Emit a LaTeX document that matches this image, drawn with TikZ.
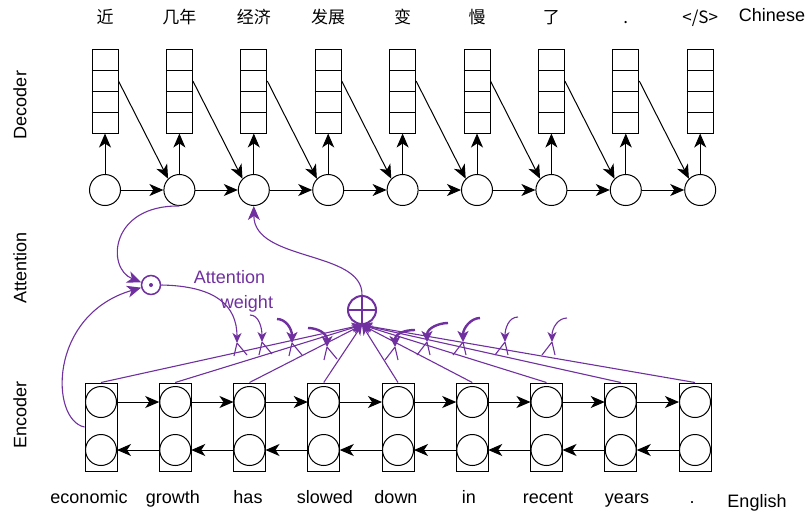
\documentclass[tikz,border=0pt]{standalone}
\usepackage{fontspec}
\setmainfont{Liberation Sans}
\newfontfamily\cjk{Noto Sans CJK SC}
\usetikzlibrary{arrows.meta}
\definecolor{attn}{RGB}{112,48,160}
\tikzset{arr/.style={-{Stealth[length=14pt,width=12pt,inset=4pt]}}}
\begin{document}
\begin{tikzpicture}[x=1pt,y=-1pt,line width=1pt,
    cell/.style={draw,minimum width=26pt,minimum height=84pt,inner sep=0pt},
    unit/.style={draw,circle,minimum size=31pt,inner sep=0pt},
    pair/.style={draw,minimum width=32pt,minimum height=88pt,inner sep=0pt},
    word/.style={font=\fontsize{18}{20}\selectfont,anchor=base},
    zh/.style={font=\cjk\fontsize{17}{19}\selectfont,anchor=base},
    side/.style={font=\fontsize{18}{20}\selectfont,rotate=90},
    att/.style={draw=attn,line width=1.1pt},
    small/.style={-{Stealth[length=10pt,width=9pt,inset=3pt]}},
    big/.style={-{Stealth[length=11pt,width=11pt,inset=3pt]}}]
\useasboundingbox (0,0) rectangle (809,515);
% decoder
\foreach \w [count=\i] in {近,几年,经济,发展,变,慢,了,.,</S>}{
    \node[cell] (out\i) at ({105+74.4*(\i-1)},91) {};
    \draw ([yshift=21pt]out\i.west)--([yshift=21pt]out\i.east) (out\i.west)--(out\i.east)
        ([yshift=-21pt]out\i.west)--([yshift=-21pt]out\i.east);
    \node[unit] (dec\i) at ({105+74.4*(\i-1)},190) {};
    \node[zh] (zh\i) at ({105+74.4*(\i-1)},23) {\w};
    \draw[arr] (dec\i.north)--(out\i.south);
}
\foreach \i [count=\j from 2] in {1,...,8}{
    \draw[arr] (dec\i)--(dec\j);
    \draw[arr] ([yshift=10pt]out\i.east)--(dec\j.north west);
}
% encoder
\foreach \i in {1,...,9}{
    \node[pair] (enc\i) at ({101+74.25*(\i-1)},427) {};
    \node[unit] (fw\i) at ({101+74.25*(\i-1)},402) {};
    \node[unit] (bw\i) at ({101+74.25*(\i-1)},450) {};
}
\foreach \i [count=\j from 2] in {1,...,8}{
    \draw[arr] (fw\i)--(fw\j);
    \draw[arr] (bw\j)--(bw\i);
}
\foreach \x/\w [count=\i] in {89/economic,173/growth,248/has,325/slowed,396/down,469/in,548/recent,627/years,692/.}
    \node[word] (en\i) at (\x,503) {\w};
\node[word] (chn) at (772,21) {Chinese};
\node[word] (eng) at (757,507) {English};
\node[side] (lab1) at (20,105) {Decoder};
\node[side] (lab2) at (20,268) {Attention};
\node[side] (lab3) at (20,415) {Encoder};
% attention
\node[circle,draw=attn,line width=2pt,minimum size=28pt,inner sep=0pt] (oplus) at (362,310) {};
\draw[attn,line width=2pt] (oplus.north)--(oplus.south) (oplus.west)--(oplus.east);
\node[circle,draw=attn,line width=1.5pt,minimum size=19pt,inner sep=0pt] (odot) at (151,285) {};
\fill[attn] (odot) circle (2pt);
\node[word,text=attn] (aw1) at (229.5,283) {Attention};
\node[word,text=attn] (aw2) at (247,308) {weight};
\foreach \i in {1,...,9}
    \draw[att,small] (enc\i.north)--(oplus.south);
\foreach \n/\x/\y in {1/237/343,2/262/342,3/292/343,4/327/347,5/395/347,6/427/342,7/463/342,8/505/342,9/552/342}
    \coordinate (w\n) at (\x,\y);
\draw[att,arr] (dec2.south) .. controls (110,205) and (106,268) .. (odot.165);
\draw[att,arr] (enc1.west) .. controls (50,420) and (48,315) .. (odot.195);
\draw[att,small] (odot.east) .. controls (215,286) and (237,305) .. (w1);
\draw[att,arr] (oplus.north) .. controls (363,250) and (254,262) .. (dec3.south);
% weights
\foreach \n/\sx/\sy/\lw/\tip in {2/250/315/1.1/small,3/277/319/2.4/big,4/308/328/2.4/big}
    \draw[attn,line width=\lw pt,\tip] (\sx,\sy) .. controls +(9,0) and +(0,-14) .. (w\n);
\foreach \n/\sx/\sy/\lw/\tip in {5/415/330/2.4/big,6/448/323/2.4/big,7/480/318/2.4/big,8/518/317/1.1/small,9/567/318/1.1/small}
    \draw[attn,line width=\lw pt,\tip] (\sx,\sy) .. controls +(-9,0) and +(0,-14) .. (w\n);
\foreach \n in {1,...,4}
    \draw[att] (w\n)--+(-3,13) (w\n)--+(10,12);
\foreach \n in {5,...,9}
    \draw[att] (w\n)--+(-10,13) (w\n)--+(3,13);
\end{tikzpicture}
\end{document}
